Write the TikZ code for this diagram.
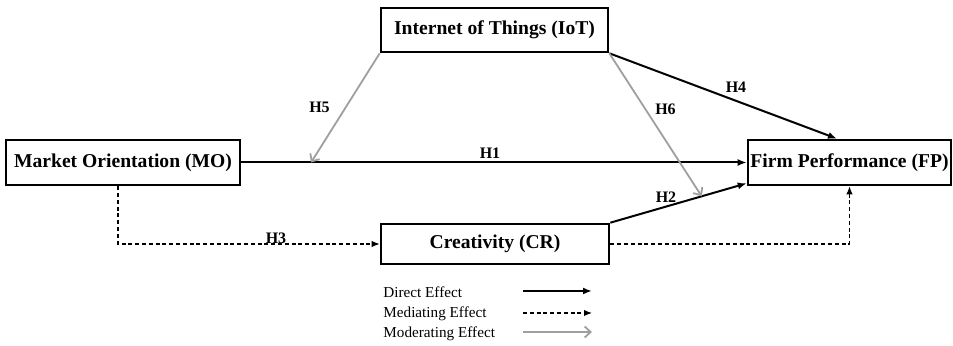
\documentclass[tikz,border=0pt]{standalone}
\usepackage{fontspec}
\setmainfont{Liberation Serif}
\usetikzlibrary{arrows.meta,calc}

\begin{document}
\begin{tikzpicture}[x=0.5pt,y=-0.5pt]
		\tikzstyle {factor box} = [draw, line width=1.3pt, inner sep=0pt, font=\fontsize{9.8}{11}\selectfont\bfseries]
		\tikzstyle {hyp label} = [inner sep=0pt, font=\fontsize{8}{9}\selectfont\bfseries]
		\tikzstyle {legend text} = [inner sep=0pt, anchor=base west, font=\fontsize{7.6}{9}\selectfont]
		\tikzstyle {direct line} = [line width=1pt, -{Latex[length=4.5pt,width=3.5pt]}]
		\tikzstyle {mediating line} = [line width=0.6pt, dash pattern=on 2pt off 1.4pt, -{Latex[length=4pt,width=3.2pt]}]
		\tikzstyle {moderating line} = [line width=0.9pt, gray!75, -{Straight Barb[length=3pt,width=5.5pt]}]

		\useasboundingbox (0,0) rectangle (953,346);

		\node[factor box, minimum width=117pt, minimum height=22.5pt] (mo) at (123,162.5) {Market Orientation (MO)};
		\node[factor box, minimum width=113.5pt, minimum height=22pt] (iot) at (494.5,30) {Internet of Things (IoT)};
		\node[factor box, minimum width=101.5pt, minimum height=22.5pt] (fp) at (849.5,162.5) {Firm Performance (FP)};
		\node[factor box, minimum width=114pt, minimum height=20pt] (cr) at (495,244) {Creativity (CR)};

		\coordinate (h2end) at ($(fp.south west)+(0,-3)$);
		\coordinate (h4end) at ($(fp.north)+(-12.5,0)$);
		\coordinate (h5end) at ($(mo.east)!0.138!(fp.west)$);
		\coordinate (h6end) at ($(cr.north east)!0.67!(h2end)$);

		% direct effects
		\draw[direct line] (mo.east) -- (fp.west);
		\draw[direct line] (cr.north east) -- (h2end);
		\draw[direct line] (iot.south east) -- (h4end);

		% mediating effects
		\draw[mediating line] ($(mo.south)+(-5,0)$) |- (cr.west);
		\draw[mediating line] (cr.east) -| (fp.south);

		% moderating effects
		\draw[moderating line] (iot.south west) -- (h5end);
		\draw[moderating line] (iot.south east) -- (h6end);

		\node[hyp label] (h1) at (490,153.5) {H1};
		\node[hyp label] (h2) at (666,197.5) {H2};
		\node[hyp label] (h3) at (276,238.5) {H3};
		\node[hyp label] (h4) at (736,87.5) {H4};
		\node[hyp label] (h5) at (319.5,107) {H5};
		\node[hyp label] (h6) at (665.5,109) {H6};

		% legend
		\node[legend text] (ldirect) at (383,298) {Direct Effect};
		\node[legend text] (lmediating) at (383,318) {Mediating Effect};
		\node[legend text] (lmoderating) at (383,338) {Moderating Effect};
		\draw[direct line] (523,291) -- (592,291);
		\draw[mediating line] (523,313) -- (592,313);
		\draw[moderating line] (523,332) -- (592,332);

	\end{tikzpicture}
\end{document}
